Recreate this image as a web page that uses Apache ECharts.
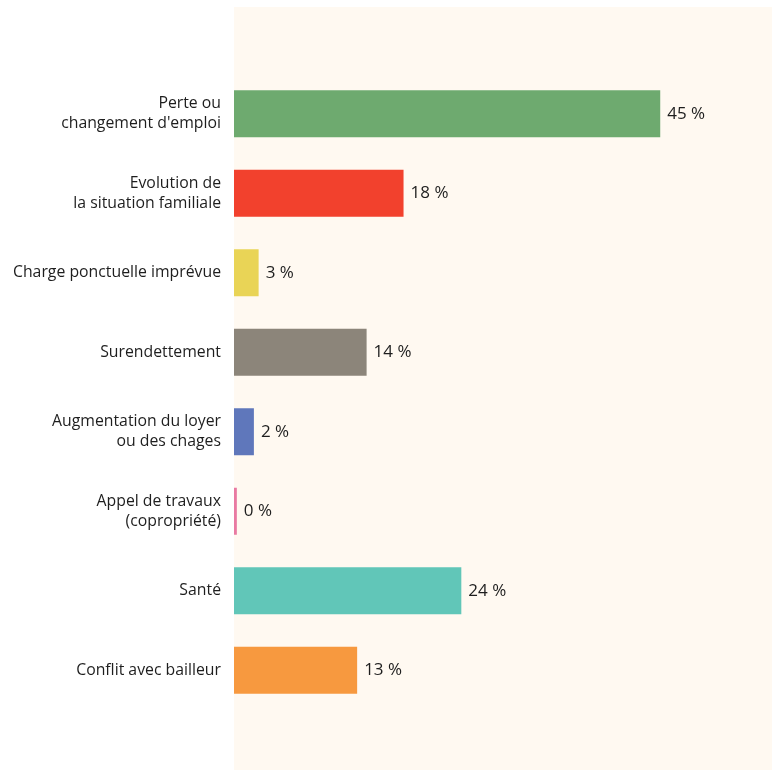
<!DOCTYPE html>
<html>
<head>
<meta charset="utf-8">
<script src="https://cdn.jsdelivr.net/npm/echarts@6/dist/echarts.min.js"></script>
<style>
    html, body { margin: 0; padding: 0; background: #fff; }
    #chart { width: 773px; height: 771px; }
</style>
</head>
<body>
<div id="chart"></div>
<script>
// categories, top to bottom
const categories = [
    'Perte ou\nchangement d\'emploi',
    'Evolution de\nla situation familiale',
    'Charge ponctuelle imprévue',
    'Surendettement',
    'Augmentation du loyer\nou des chages',
    'Appel de travaux\n(copropriété)',
    'Santé',
    'Conflit avec bailleur'
];
// share of households (%)
const values = [45, 17.9, 2.6, 14, 2.1, 0.3, 24, 13];

const barColors = ['#6eaa6f', '#f2412d', '#e9d456', '#8c857a', '#5f77bb', '#e97aa2', '#61c6b8', '#f7993f'];

const chart = echarts.init(document.getElementById('chart'));

const option = {
    animation: false,
    textStyle: { fontFamily: 'Open Sans' },
    graphic: [
        {
            type: 'rect',
            z: -10,
            shape: { x: 234, y: 7, width: 538, height: 763 },
            style: { fill: '#fff9f1' }
        }
    ],
    grid: {
        left: 234,
        right: 1,
        top: 74,
        height: 636
    },
    xAxis: {
        type: 'value',
        min: 0,
        max: 56.8,
        show: false,
        splitLine: { show: false }
    },
    yAxis: {
        type: 'category',
        inverse: true,
        data: categories,
        axisLine: { show: false },
        axisTick: { show: false },
        axisLabel: {
            margin: 13,
            color: '#1e1e1e',
            fontSize: 15.8,
            lineHeight: 20,
            fontFamily: 'Open Sans'
        }
    },
    series: [
        {
            type: 'bar',
            barWidth: 47,
            data: values.map((v, i) => ({
                value: v,
                itemStyle: { color: barColors[i] }
            })),
            label: {
                show: true,
                position: 'right',
                distance: 7,
                color: '#1e1e1e',
                fontSize: 17,
                fontFamily: 'Open Sans',
                formatter: p => Math.round(p.value) + ' %'
            }
        }
    ]
};

chart.setOption(option);
</script>
</body>
</html>
